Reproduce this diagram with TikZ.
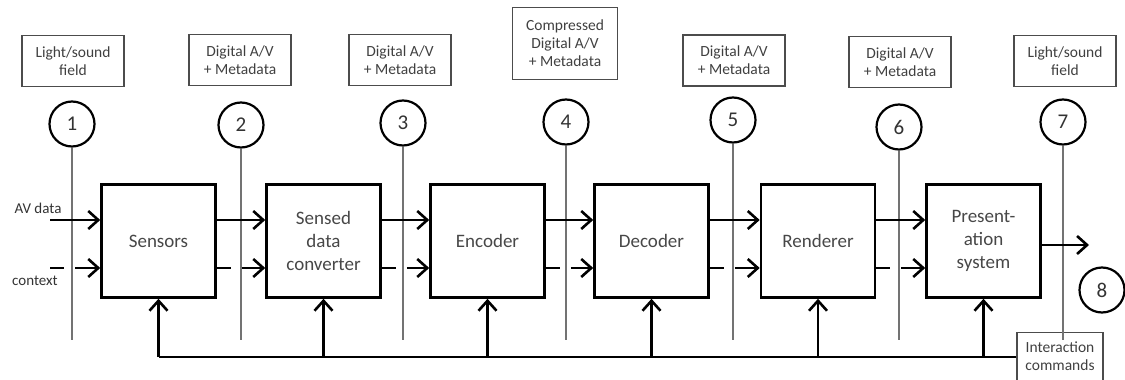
\documentclass[tikz,border=0pt]{standalone}
\usepackage{fontspec}
\setmainfont{Carlito}
\usetikzlibrary{arrows.meta}

\begin{document}
\begin{tikzpicture}[x=1pt,y=-1pt]
    \tikzset{block/.style = {draw, line width=2.6pt, minimum width=114pt,
        minimum height=113pt, align=center, text=black!72,
        font=\fontsize{19}{23}\selectfont}}
    \tikzset{tag/.style = {draw=black!70, line width=1.1pt, minimum width=102pt,
        minimum height=51pt, align=center, text=black!75,
        font=\fontsize{15.5}{18}\selectfont}}
    \tikzset{num/.style = {shape=circle, draw, line width=2.2pt, minimum size=45pt,
        inner sep=0pt, text=black!80, font=\fontsize{21}{21}\selectfont}}
    \tikzset{flow/.style = {line width=2.6pt, -{Straight Barb[length=10pt,width=18pt]}}}
    \tikzset{side/.style = {flow, dash pattern=on 14pt off 11pt on 80pt}}
    \tikzset{guide/.style = {draw=black!55, line width=1.2pt}}
    \useasboundingbox (0,0) rectangle (1125,380);

    % blocks
    \node[block] (sens) at (158.5,241) {Sensors};
    \node[block] (conv) at (323.5,241) {Sensed\\data\\converter};
    \node[block] (enc)  at (487.5,241) {Encoder};
    \node[block] (dec)  at (651.5,241) {Decoder};
    \node[block] (rend) at (818,241)   {Renderer};
    \node[block] (pres) at (983.5,241) {Present-\\ation\\system};

    % signal tags and their numbers
    \node[tag] (t1) at (73,61)    {Light/sound\\field};
    \node[tag] (t2) at (240,60)   {Digital A/V\\+ Metadata};
    \node[tag] (t3) at (400,60)   {Digital A/V\\+ Metadata};
    \node[tag, minimum width=105pt, minimum height=72pt] (t4) at (565,43.5)
        {Compressed\\Digital A/V\\+ Metadata};
    \node[tag] (t5) at (734,60.5) {Digital A/V\\+ Metadata};
    \node[tag] (t6) at (900,62)   {Digital A/V\\+ Metadata};
    \node[tag] (t7) at (1065,61)  {Light/sound\\field};
    \node[num] (n1) at (72,124)  {1};
    \node[num] (n2) at (241,125) {2};
    \node[num] (n3) at (403,123) {3};
    \node[num] (n4) at (566,122) {4};
    \node[num] (n5) at (733,120) {5};
    \node[num] (n6) at (899,127) {6};
    \node[num] (n7) at (1063,122) {7};
    \node[num] (n8) at (1102,290) {8};
    \node[tag, minimum width=86pt, minimum height=0pt, inner ysep=9pt,
        text depth=16pt, anchor=north] (ic) at (1060,332)
        {Interaction\\commands};

    % inputs
    \coordinate (av)  at (0,220);
    \coordinate (ctx) at (0,268);
    \coordinate (bus) at (0,357);
    \coordinate (avin)  at (50,220);
    \coordinate (ctxin) at (50,268);
    \coordinate (gend) at (0,340);
    \coordinate (out) at (1089,245);
    \node[text=black!80, font=\fontsize{15}{15}\selectfont] (avlbl)  at (38,208) {AV data};
    \node[text=black!80, font=\fontsize{15}{15}\selectfont] (ctxlbl) at (35,281) {context};

    % guide lines
    \foreach \n in {n1,n2,n3,n4,n5,n6,n7}
        \draw[guide] (\n) -- (\n |- gend);

    % edges
    \draw[flow] (avin) -- (sens.west |- av);
    \draw[side] (ctxin) -- (sens.west |- ctx);
    \foreach \a/\b in {sens/conv,conv/enc,enc/dec,dec/rend,rend/pres} {
        \draw[flow] (\a.east |- av) -- (\b.west |- av);
        \draw[side] (\a.east |- ctx) -- (\b.west |- ctx);
    }
    \draw[flow] (pres.east |- out) -- (out);

    % feedback
    \draw[line width=2.6pt] (ic.west |- bus) -- (bus -| sens);
    \foreach \b in {sens,conv,enc,dec,rend,pres}
        \draw[flow] (bus -| \b) -- (\b);
\end{tikzpicture}
\end{document}
